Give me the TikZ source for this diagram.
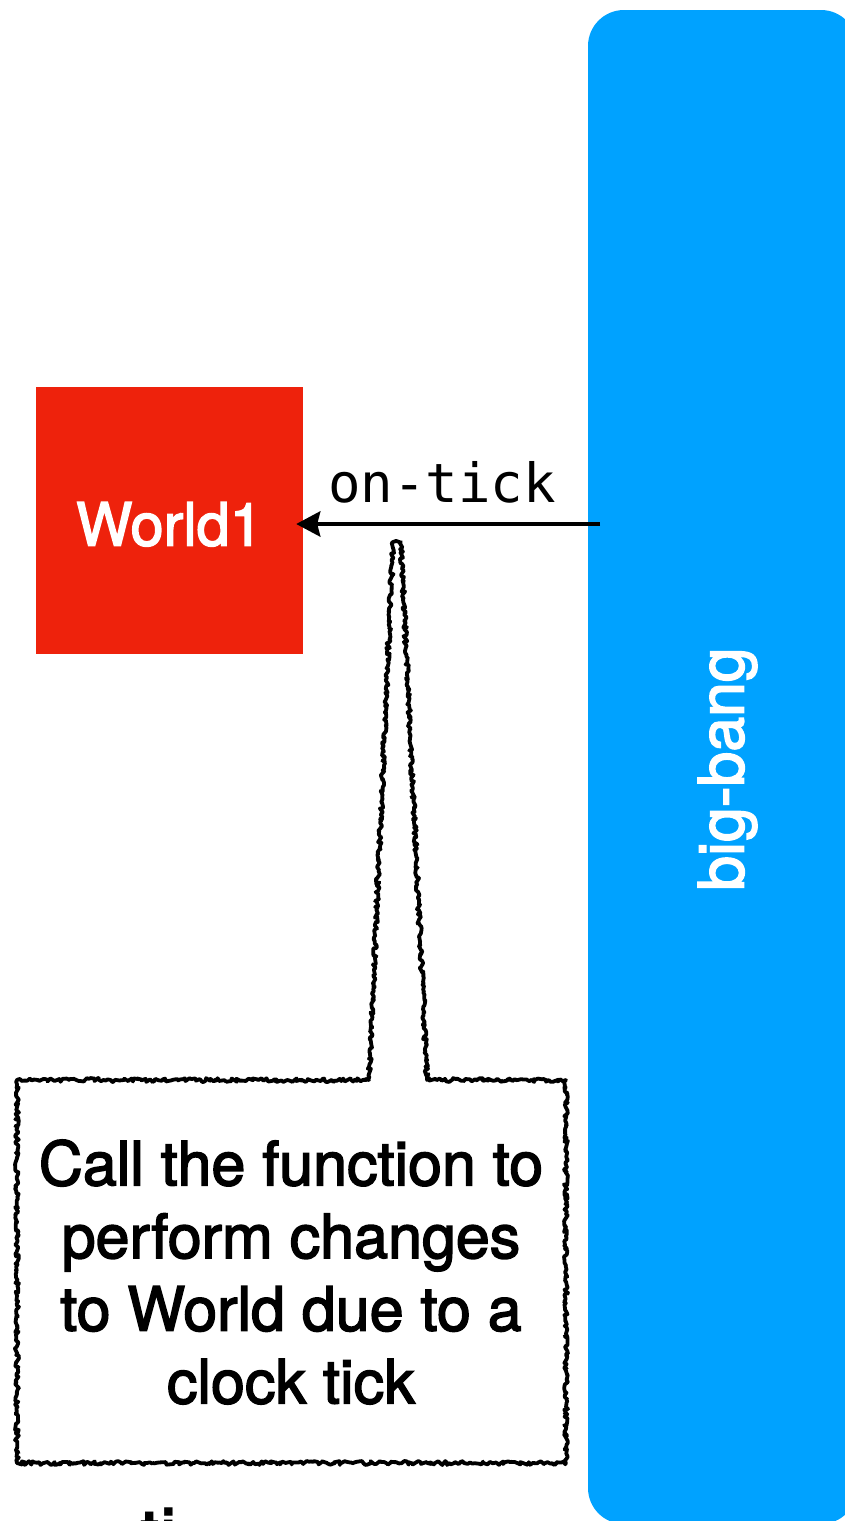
\documentclass[tikz,border=0pt]{standalone}
\usepackage{fontspec}
\setmainfont{TeX Gyre Heros}
\newfontfamily\medf{TeX Gyre Heros}[FakeBold=2.5]
\newfontfamily\monof{DejaVu Sans Mono}
\usetikzlibrary{decorations.pathmorphing,arrows.meta}
\definecolor{bbblue}{RGB}{0,162,255}
\definecolor{wred}{RGB}{238,34,12}
\tikzset{
  worldbox/.style={fill=wred, minimum width=267pt, minimum height=267pt, inner sep=0pt,
    text=white, font=\medf\fontsize{59.5}{70}\selectfont, text height=51pt},
  bigbox/.style={fill=bbblue, rounded corners=36pt, minimum width=269pt, minimum height=1514pt, inner sep=0pt},
  bblabel/.style={text=white, rotate=90, inner sep=0pt, font=\medf\fontsize{62.5}{70}\selectfont},
  msglabel/.style={inner sep=0pt, font=\monof\fontsize{54}{60}\selectfont},
  arr/.style={line width=4.5pt, -{Stealth[length=24pt,width=25pt,inset=3pt]}},
  rough/.style={decorate, decoration={random steps, segment length=2pt, amplitude=2pt},
    line width=3.8pt, line join=round},
  calltext/.style={align=center, inner sep=0pt, font=\medf\fontsize{61}{72.7}\selectfont},
}
\begin{document}
\begin{tikzpicture}[x=1pt,y=-1pt]
\useasboundingbox (0,0) rectangle (845,1521);
\clip (0,0) rectangle (845,1521);
% big-bang box
\node[bigbox] (bb) at (722.5,767) {};
\node[bblabel] (bbl) at (727.5,769) {big-bang};
% World1
\node[worldbox] (w) at (169.5,520.5) {World1};
% on-tick arrow
\coordinate (s) at (600,524);
\draw[arr] (s) -- ([xshift=-7pt,yshift=-3.5pt]w.east);
\node[msglabel, anchor=base] (ot) at (442,502) {on-tick};
% callout
\coordinate (tip) at (397,542);
\draw[rough] (17,1080) -- (369,1080) -- ([xshift=-4pt]tip) -- ([xshift=4pt]tip)
  -- (427,1080) -- (566,1080) -- (566,1463) -- (17,1463) -- cycle;
\node[calltext] (ct) at (291,1272) {Call the function to\\perform changes\\to World due to a\\clock tick};
% cut-off text at bottom
\node[anchor=base west, inner sep=0pt, font=\bfseries\fontsize{60}{70}\selectfont] (cut) at (140,1552) {ti};
\end{tikzpicture}
\end{document}
